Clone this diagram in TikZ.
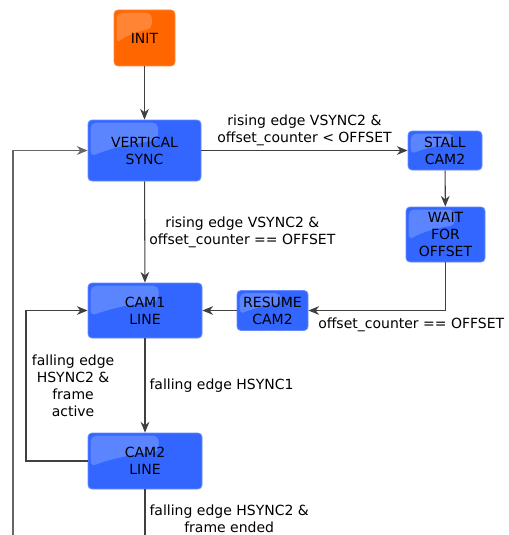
\documentclass[tikz,border=0pt]{standalone}
\usepackage{fontspec}
\setmainfont{DejaVu Sans}
\usetikzlibrary{arrows.meta,positioning,calc}
\definecolor{stblue}{HTML}{3366FF}
\definecolor{storange}{HTML}{FF6600}

\begin{document}
\begin{tikzpicture}[x=0.75pt, y=-0.75pt, >={Stealth[length=8pt,width=6.5pt,inset=2.5pt]}, font=\fontsize{10.5}{12.75}\selectfont,
    gloss/.style={path picture={\fill[white,opacity=0.2,rounded corners=4pt]
      let \p1=(path picture bounding box.north west), \p2=(path picture bounding box.south east),
          \n1={\x2-\x1}, \n2={\y1-\y2} in
      (\x1+2pt,\y1-2pt) -- (\x1+0.62*\n1,\y1-2pt) -- (\x1+0.62*\n1,\y1-0.34*\n2)
      .. controls (\x1+0.35*\n1,\y1-0.38*\n2) and (\x1+0.15*\n1,\y1-0.5*\n2) .. (\x1+2pt,\y1-0.6*\n2) -- cycle;}},
    blk/.style={draw=stblue!75!white, fill=stblue, rounded corners=3pt, line width=0.6pt, align=center, inner sep=1pt, gloss},
    initblk/.style={blk, draw=storange!75!white, fill=storange},
    edge/.style={->, line width=0.8pt, draw=black!75},
    lbl/.style={align=center, inner sep=3pt}]
      \useasboundingbox (0,0) rectangle (508,535);

      \node[initblk, minimum width=45.75pt, minimum height=42pt] (init) at (144.5,38) {INIT};
      \node[blk, minimum width=84.75pt, minimum height=45.75pt] (vsync) at (144.5,150.5) {VERTICAL\\SYNC};
      \node[blk, minimum width=55.5pt, minimum height=29.25pt] (stall) at (445,150.5) {STALL\\CAM2};
      \node[blk, minimum width=59.25pt, minimum height=41.25pt] (wait) at (445.5,234.5) {WAIT\\FOR\\OFFSET};
      \node[blk, minimum width=85.5pt, minimum height=41.25pt] (cam1) at (145,310.5) {CAM1\\LINE};
      \node[blk, minimum width=53.25pt, minimum height=30pt] (resume) at (272.5,310.5) {RESUME\\CAM2};
      \node[blk, minimum width=85.5pt, minimum height=42pt] (cam2) at (145,461) {CAM2\\LINE};

      \coordinate (loopin) at (13,535);
      \coordinate (fb) at (26,461);
      \coordinate (cam2out) at (145,535);

      \draw[edge] (init) -- (vsync);
      \draw[edge] (vsync) -- node[lbl, above, midway] {rising edge VSYNC2 \&\\offset\_counter < OFFSET} (stall);
      \draw[edge] (stall) -- (wait);
      \draw[edge] (vsync) -- node[lbl, right, midway] {rising edge VSYNC2 \&\\offset\_counter == OFFSET} (cam1);
      \draw[edge] (wait.south) |- node[lbl, pos=1, below right, xshift=4pt, yshift=-2pt] {offset\_counter == OFFSET} (resume.east);
      \draw[edge] (resume) -- (cam1);
      \draw[edge] (cam1) -- node[lbl, right, midway] {falling edge HSYNC1} (cam2);
      \draw[edge] (cam2.west) -- (fb) |- node[lbl, pos=0.25, right, xshift=1pt] {falling edge\\HSYNC2 \&\\frame\\active} (cam1.west);
      \draw[line width=0.8pt, draw=black!75] (cam2.south) -- node[lbl, pos=0.65, right] {falling edge HSYNC2 \&\\frame ended} (cam2out);
      \draw[edge, draw=black!60] (loopin) |- (vsync.west);
    \end{tikzpicture}
\end{document}
